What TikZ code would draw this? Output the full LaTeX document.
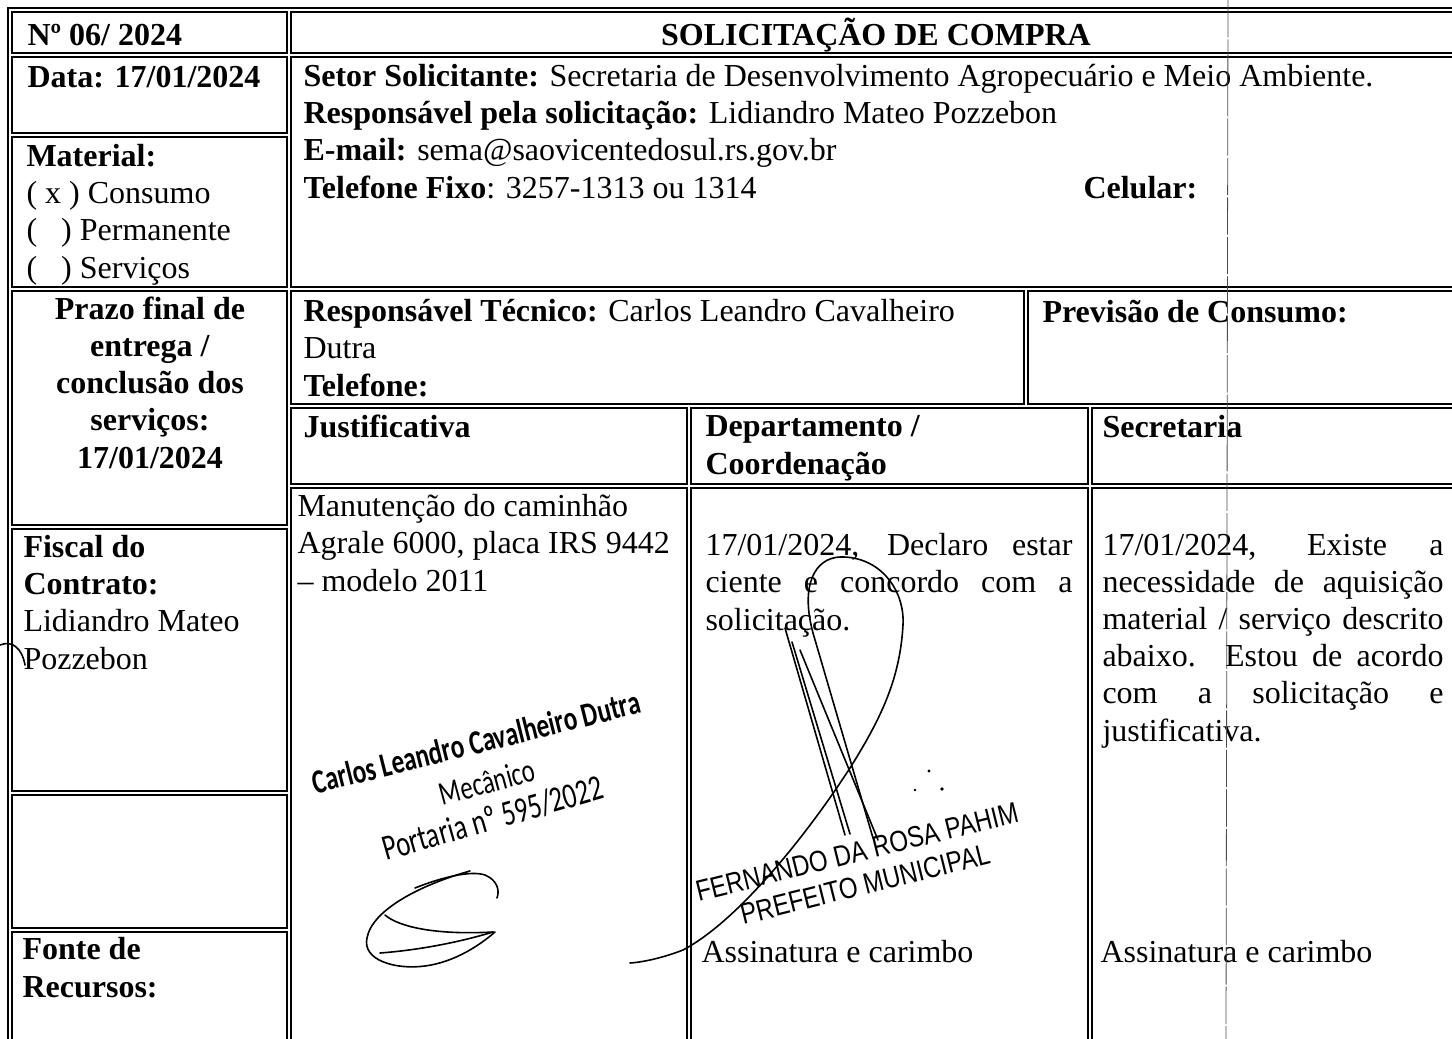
\documentclass[tikz,border=0pt]{standalone}
\usepackage{fontspec}
\setmainfont{Liberation Serif}
\newfontfamily\stampfont[FakeStretch=0.74]{Carlito}
\newfontfamily\sealfont[FakeStretch=0.82]{Liberation Sans}
\newcommand{\jl}[2]{\makebox[#1][s]{#2}}

\begin{document}
\begin{tikzpicture}[x=0.375pt,y=-0.375pt,
  cellbox/.style={line width=0.6pt},
  outerbox/.style={line width=0.5pt},
  txt/.style={anchor=base west, inner sep=0pt, align=left, font=\fontsize{12}{13.9}\selectfont},
  sig/.style={line width=0.6pt, line cap=round},
  scanline/.style={line width=0.3pt, black!70, dash pattern=on 14pt off 0.8pt},
]
  \useasboundingbox (0,0) rectangle (1452,1039);
  \clip (0,0) rectangle (1452,1039);

  %outer frame
  \draw[outerbox] (8,8) rectangle (1470,1060);
  %left column
  \draw[cellbox] (12,12) rectangle (287,53);
  \draw[cellbox] (12,57) rectangle (287,133);
  \draw[cellbox] (12,137) rectangle (287,287);
  \draw[cellbox] (12,291) rectangle (287,525);
  \draw[cellbox] (12,529) rectangle (287,791);
  \draw[cellbox] (12,795) rectangle (287,928);
  \draw[cellbox] (12,932) rectangle (287,1055);
  %right part
  \draw[cellbox] (291,12) rectangle (1465,53);
  \draw[cellbox] (291,57) rectangle (1465,287);
  \draw[cellbox] (291,291) rectangle (1024,404);
  \draw[cellbox] (1028,291) rectangle (1465,404);
  \draw[cellbox] (291,408) rectangle (687,484);
  \draw[cellbox] (691,408) rectangle (1088,484);
  \draw[cellbox] (1092,408) rectangle (1465,484);
  \draw[cellbox] (291,488) rectangle (687,1055);
  \draw[cellbox] (691,488) rectangle (1088,1055);
  \draw[cellbox] (1092,488) rectangle (1465,1055);

  %left column texts (multi-line nodes sit on their last baseline)
  \node[txt] (numero) at (27,45) {\textbf{Nº 06/ 2024}};
  \node[txt] (data) at (27,87) {\textbf{Data: 17/01/2024}};
  \node[txt] (material) at (26,278) {\textbf{Material:}\\( x ) Consumo\\(\ \ \ ) Permanente\\(\ \ \ ) Serviços};
  \node[txt, anchor=base, align=center] (prazo) at (150,468)
    {\textbf{Prazo final de}\\\textbf{entrega /}\\\textbf{conclusão dos}\\\textbf{serviços:}\\\textbf{17/01/2024}};
  \node[txt] (fiscal) at (23,669) {\textbf{Fiscal do}\\\textbf{Contrato:}\\Lidiandro Mateo\\Pozzebon};
  \node[txt] (fonte) at (22,997) {\textbf{Fonte de}\\\textbf{Recursos:}};

  %top right texts
  \node[txt, anchor=base] (titulo) at (876,45) {\textbf{SOLICITAÇÃO DE COMPRA}};
  \node[txt] (setor) at (303,198)
    {\textbf{Setor Solicitante:} Secretaria de Desenvolvimento Agropecuário e Meio Ambiente.\\
     \textbf{Responsável pela solicitação:} Lidiandro Mateo Pozzebon\\
     \textbf{E-mail:} sema@saovicentedosul.rs.gov.br\\
     \textbf{Telefone Fixo}: 3257-1313 ou 1314};
  \node[txt] (celular) at (1083,198) {\textbf{Celular:}};

  %middle row
  \node[txt] (tecnico) at (303,396)
    {\textbf{Responsável Técnico:} Carlos Leandro Cavalheiro\\Dutra\\\textbf{Telefone:}};
  \node[txt] (previsao) at (1042,322) {\textbf{Previsão de Consumo:}};

  %headers
  \node[txt] (justif) at (303,437) {\textbf{Justificativa}};
  \node[txt] (depto) at (705,474) {\textbf{Departamento /}\\\textbf{Coordenação}};
  \node[txt] (secret) at (1102,437) {\textbf{Secretaria}};

  %bodies
  \node[txt] (manut) at (297,591) {Manutenção do caminhão\\Agrale 6000, placa IRS 9442\\– modelo 2011};
  \node[txt] (declaro) at (705,630)
    {\jl{137.6pt}{17/01/2024, Declaro estar}\\\jl{137.6pt}{ciente e concordo com a}\\solicitação.};
  \node[txt] (existe) at (1102,741)
    {\jl{127.9pt}{17/01/2024, Existe a}\\\jl{127.9pt}{necessidade de aquisição}\\
     \jl{127.9pt}{material / serviço descrito}\\\jl{127.9pt}{abaixo. Estou de acordo}\\
     \jl{127.9pt}{com a solicitação e}\\justificativa.};
  \node[txt] (assin1) at (701,962) {Assinatura e carimbo};
  \node[txt] (assin2) at (1100,962) {Assinatura e carimbo};

  %stamps
  \node[rotate=14, inner sep=0pt, font=\stampfont\bfseries\fontsize{12.8}{15}\selectfont] (carimbo) at (476,742) {Carlos Leandro Cavalheiro Dutra};
  \node[rotate=15, inner sep=0pt, font=\stampfont\fontsize{12.5}{14}\selectfont] (cargo) at (487,782) {Mecânico};
  \node[rotate=16, inner sep=0pt, font=\stampfont\fontsize{13.5}{15}\selectfont] (portaria) at (493,818) {Portaria nº 595/2022};
  \node[rotate=14, inner sep=0pt, align=center, font=\sealfont\fontsize{11}{12.5}\selectfont] (prefeito) at (861,868)
    {FERNANDO DA ROSA PAHIM\\PREFEITO MUNICIPAL};

  %signatures
  \draw[sig] (873,838) -- (813,633) .. controls (800,585) and (815,558) .. (840,557)
    .. controls (880,556) and (905,590) .. (903,625) .. controls (900,680) and (880,720) .. (850,768)
    .. controls (810,830) and (740,920) .. (683,950) .. controls (665,957) and (645,962) .. (630,963);
  \draw[sig] (785,628) -- (845,835);
  \draw[sig] (792,642) -- (850,834);
  \draw[sig] (800,650) -- (878,840);
  \fill (929,771) circle (1.6); \fill (942,789) circle (1.8); \fill (915,790) circle (1.4);
  \draw[sig] (470,871) .. controls (420,885) and (372,910) .. (367,938)
    .. controls (362,960) and (395,970) .. (425,966) .. controls (455,962) and (480,945) .. (495,932);
  \draw[sig] (415,888) .. controls (440,878) and (470,870) .. (485,875) .. controls (497,880) and (500,890) .. (497,898);
  \draw[sig] (385,915) .. controls (400,928) and (440,935) .. (493,932);
  \draw[sig] (380,953) .. controls (420,950) and (460,942) .. (493,932);
  \draw[sig] (0,645) .. controls (12,640) and (22,648) .. (25,665);

  %scan line
  \draw[scanline] (1228,0) -- (1226,1039);
\end{tikzpicture}
\end{document}
